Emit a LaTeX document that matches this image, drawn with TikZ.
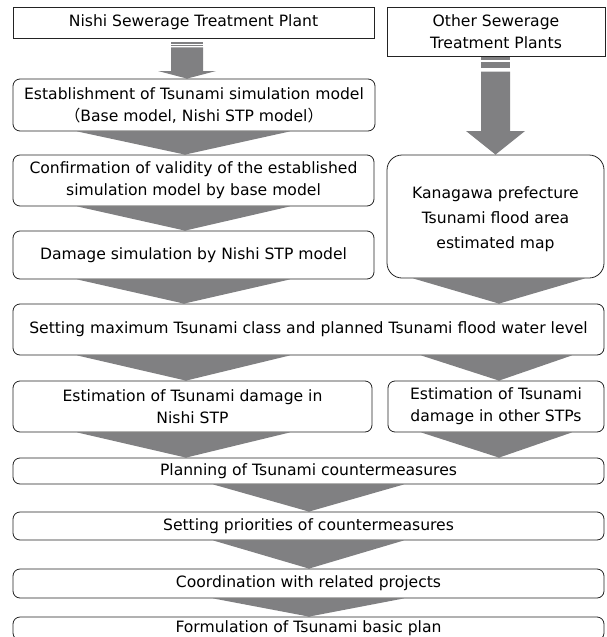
\documentclass[tikz,border=0pt]{standalone}
\usepackage{fontspec}
\setmainfont{DejaVu Sans}
\newfontfamily\jpFont{Noto Sans CJK JP}
\usetikzlibrary{positioning, calc}
\definecolor{arrowGray}{RGB}{128, 128, 130}
\definecolor{lineDark}{RGB}{35, 35, 35}
\pgfdeclarelayer{back}
\pgfsetlayers{back,main}
\tikzset{
  stepBox/.style={draw=lineDark, line width=0.8pt, fill=white, rounded corners=7pt,
    align=center, inner sep=0pt, font=\fontsize{15.6}{22}\selectfont},
  plantBox/.style={stepBox, sharp corners},
  arrowFill/.style={fill=arrowGray}
}

\begin{document}
\begin{tikzpicture}[x=1pt, y=-1pt]
    \useasboundingbox (0,0) rectangle (606,637);
    \clip (0,0) rectangle (606,637);
    % sources
    \node[plantBox, minimum width=361, minimum height=31] (plantA) at (193.5,22.5) {Nishi Sewerage Treatment Plant};
    \node[plantBox, minimum width=218, minimum height=49] (plantB) at (496,31.5) {Other Sewerage\\Treatment Plants};
    % left column
    \node[stepBox, minimum width=362, minimum height=52] (establish) at (194,105) {Establishment of Tsunami simulation model\\{\jpFont （}Base model, Nishi STP model{\jpFont ）}};
    \node[stepBox, minimum width=361, minimum height=51] (confirm) at (193.5,180.5) {Confirmation of validity of the established\\simulation model by base model};
    \node[stepBox, minimum width=361, minimum height=48] (damage) at (193.5,255) {Damage simulation by Nishi STP model};
    \node[stepBox, rounded corners=15pt, minimum width=217, minimum height=123, font=\fontsize{15.6}{25}\selectfont] (kanagawa) at (495.5,216.5) {\\[-8pt]Kanagawa prefecture\\Tsunami flood area\\estimated map};
    % common steps
    \node[stepBox, minimum width=591, minimum height=51] (setMax) at (308.5,329.5) {Setting maximum Tsunami class and planned Tsunami flood water level};
    \node[stepBox, minimum width=359, minimum height=51] (estNishi) at (192.5,406.5) {Estimation of Tsunami damage in\\Nishi STP};
    \node[stepBox, minimum width=216, minimum height=51] (estOther) at (496,406.5) {Estimation of Tsunami\\damage in other STPs};
    \node[stepBox, minimum width=591, minimum height=26] (planning) at (308.5,471) {Planning of Tsunami countermeasures};
    \node[stepBox, minimum width=591, minimum height=28] (priority) at (308.5,526) {Setting priorities of countermeasures};
    \node[stepBox, minimum width=591, minimum height=29] (coordination) at (308.5,583.5) {Coordination with related projects};
    \node[stepBox, minimum width=591, minimum height=23] (formulation) at (308.5,628.5) {Formulation of Tsunami basic plan};

    \begin{pgfonlayer}{back}
        % striped arrows
        \fill[arrowFill] (171,42.3) rectangle (203,43.7);
        \fill[arrowFill] (171,44.8) rectangle (203,46.1);
        \fill[arrowFill] (171,47.3) -- (203,47.3) -- (203,71) -- (216,71) -- (187,0 |- establish.north) -- (158,71) -- (171,71) -- cycle;
        \fill[arrowFill] (481,57.3) rectangle (510,60);
        \fill[arrowFill] (481,62) rectangle (510,68.3);
        \fill[arrowFill] (481,71.7) -- (510,71.7) -- (510,131) -- (525,131) -- (495.5,0 |- kanagawa.north) -- (466,131) -- (481,131) -- cycle;
        % chevrons
        \fill[arrowFill] (77,0 |- establish.south) -- (290,0 |- establish.south) -- (185,0 |- confirm.north) -- cycle;
        \fill[arrowFill] (77,0 |- confirm.south) -- (290,0 |- confirm.south) -- (185,0 |- damage.north) -- cycle;
        \fill[arrowFill] (77,0 |- damage.south) -- (290,0 |- damage.south) -- (184,0 |- setMax.north) -- cycle;
        \fill[arrowFill] (413,0 |- kanagawa.south) -- (585,0 |- kanagawa.south) -- (499,0 |- setMax.north) -- cycle;
        \fill[arrowFill] (77,0 |- setMax.south) -- (290,0 |- setMax.south) -- (186,0 |- estNishi.north) -- cycle;
        \fill[arrowFill] (421,0 |- setMax.south) -- (572,0 |- setMax.south) -- (499,0 |- estOther.north) -- cycle;
        \fill[arrowFill] (77,0 |- estNishi.south) -- (290,0 |- estNishi.south) -- (186,0 |- planning.north) -- cycle;
        \fill[arrowFill] (421,0 |- estOther.south) -- (572,0 |- estOther.south) -- (499,0 |- planning.north) -- cycle;
        \fill[arrowFill] (213,0 |- planning.south) -- (404,0 |- planning.south) -- (309,0 |- priority.north) -- cycle;
        \fill[arrowFill] (213,0 |- priority.south) -- (404,0 |- priority.south) -- (309,0 |- coordination.north) -- cycle;
        \fill[arrowFill] (213,0 |- coordination.south) -- (404,0 |- coordination.south) -- (309,0 |- formulation.north) -- cycle;
    \end{pgfonlayer}
\end{tikzpicture}
\end{document}
